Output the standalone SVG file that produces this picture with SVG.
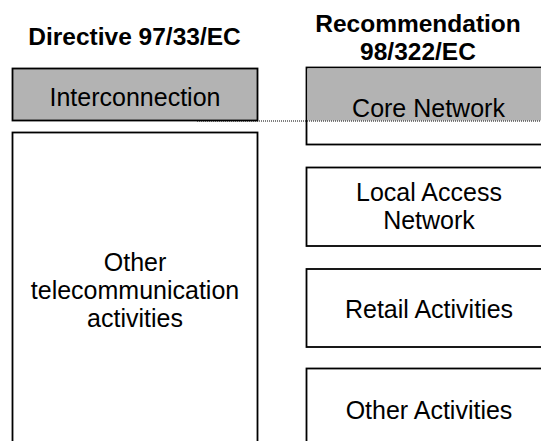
<svg xmlns="http://www.w3.org/2000/svg" width="541" height="441" viewBox="0 0 541 441">
<style>
  .box { fill: #ffffff; stroke: #000000; stroke-width: 1.8; }
  .gray { fill: #b3b3b3; }
  .t { font-family: "Liberation Sans", Arial, sans-serif; font-size: 25px; fill: #000000; text-anchor: middle; }
  .h { font-family: "Liberation Sans", Arial, sans-serif; font-size: 24.5px; font-weight: bold; fill: #000000; text-anchor: middle; }
  .dot { stroke: #000000; stroke-width: 1; stroke-dasharray: 1 1; fill: none; }
</style>
<rect width="541" height="441" fill="#ffffff"/>
<g id="title-left"><text class="h" x="134.5" y="45">Directive 97/33/EC</text></g>
<g id="title-right">
  <text class="h" x="418" y="32">Recommendation</text>
  <text class="h" x="418" y="59.5">98/322/EC</text>
</g>
<g id="interconnection">
  <rect class="box" x="12.5" y="68.5" width="245" height="52" style="fill:#b3b3b3"/>
  <text class="t" x="135" y="106">Interconnection</text>
</g>
<g id="other-telecom">
  <rect class="box" x="12.5" y="132.5" width="245" height="330"/>
  <text class="t" x="135" y="271">Other</text>
  <text class="t" x="135" y="299">telecommunication</text>
  <text class="t" x="135" y="327">activities</text>
</g>
<g id="core-network">
  <rect class="box" x="306.5" y="67.5" width="250" height="77"/>
  <rect class="gray" x="307.4" y="68.4" width="240" height="52.1"/>
  <text class="t" x="428.5" y="117">Core Network</text>
</g>
<g id="local-access">
  <rect class="box" x="306.5" y="167.5" width="250" height="78.5"/>
  <text class="t" x="429" y="201">Local Access</text>
  <text class="t" x="429" y="228.5">Network</text>
</g>
<g id="retail">
  <rect class="box" x="306.5" y="269" width="250" height="78"/>
  <text class="t" x="429" y="318">Retail Activities</text>
</g>
<g id="other-activities">
  <rect class="box" x="306.5" y="368.5" width="250" height="100"/>
  <text class="t" x="429" y="419">Other Activities</text>
</g>
<g id="connectors">
  <line class="dot" x1="197" y1="121" x2="541" y2="121"/>
</g>
</svg>
